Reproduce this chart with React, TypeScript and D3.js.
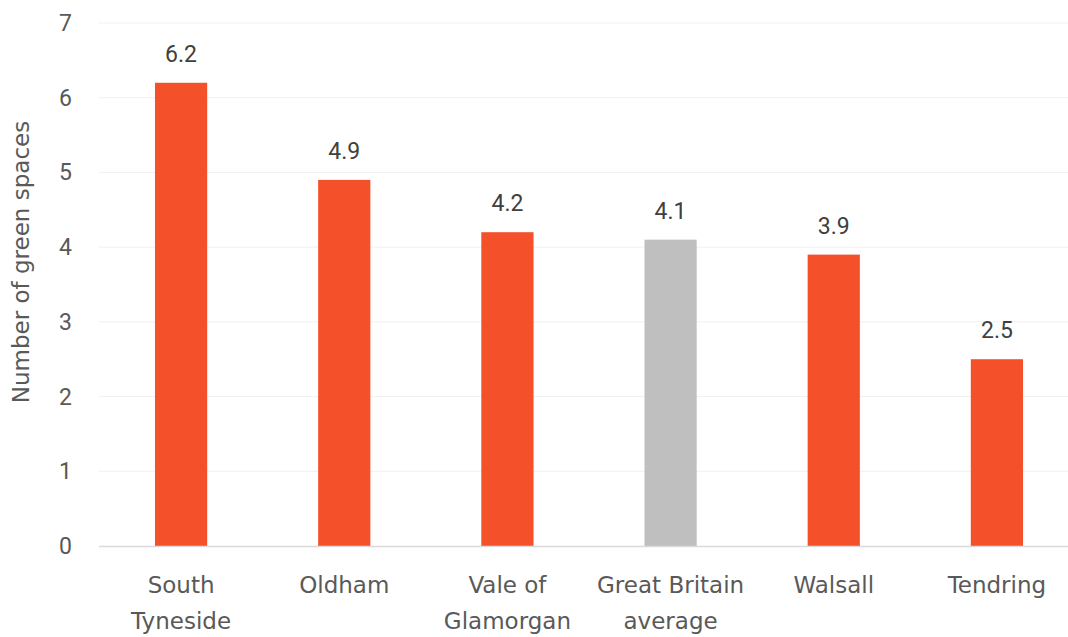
import React from "react";
import * as d3 from "d3";

const categories: string[][] = [
  ["South", "Tyneside"],
  ["Oldham"],
  ["Vale of", "Glamorgan"],
  ["Great Britain", "average"],
  ["Walsall"],
  ["Tendring"],
];
const values: number[] = [6.2, 4.9, 4.2, 4.1, 3.9, 2.5];
const highlight: boolean[] = [true, true, true, false, true, true];
const yTicks: number[] = [0, 1, 2, 3, 4, 5, 6, 7];
const yTitle = "Number of green spaces";

const W = 1068;
const H = 637;

export default function App() {
  const keys = categories.map((c) => c.join(" "));
  const x = d3
    .scaleBand<string>()
    .domain(keys)
    .range([99.5, 1078.5])
    .paddingInner(0.68)
    .paddingOuter(0.34);
  const y = d3.scaleLinear().domain([0, 7]).range([546, 23]);
  const font = "'DejaVu Sans', 'Open Sans', sans-serif";
  const numFont = "Roboto, 'Liberation Sans', Arial, sans-serif";
  return (
    <svg width={W} height={H} style={{ position: "absolute", left: 0, top: 0, background: "#fff" }}>
      {yTicks.map((t) => (
        <g key={t}>
          {t > 0 && (
            <line x1={99} x2={1068} y1={y(t)} y2={y(t)} stroke="#f0f0f0" strokeWidth={1} />
          )}
          <text
            x={72}
            y={y(t)}
            dy="0.35em"
            textAnchor="end"
            fontSize={23}
            fill="#595959"
            fontFamily={numFont}
          >
            {t}
          </text>
        </g>
      ))}
      {values.map((v, i) => (
        <g key={keys[i]}>
          <rect
            x={x(keys[i])}
            y={y(v)}
            width={x.bandwidth()}
            height={y(0) - y(v)}
            fill={highlight[i] ? "#F4502A" : "#BFBFBF"}
          />
          <text
            x={(x(keys[i]) as number) + x.bandwidth() / 2}
            y={y(v) - 21}
            textAnchor="middle"
            fontSize={23}
            fill="#404040"
            fontFamily={numFont}
          >
            {v.toFixed(1)}
          </text>
          <text
            x={(x(keys[i]) as number) + x.bandwidth() / 2}
            y={593}
            textAnchor="middle"
            fontSize={23}
            fill="#595959"
            fontFamily={font}
          >
            {categories[i].map((line, j) => (
              <tspan key={j} x={(x(keys[i]) as number) + x.bandwidth() / 2} dy={j === 0 ? 0 : 36}>
                {line}
              </tspan>
            ))}
          </text>
        </g>
      ))}
      <line x1={99} x2={1068} y1={y(0) + 0.5} y2={y(0) + 0.5} stroke="#d9d9d9" strokeWidth={1.5} />
      <text
        transform={`translate(29, 262) rotate(-90)`}
        textAnchor="middle"
        fontSize={23}
        fill="#595959"
        fontFamily={font}
      >
        {yTitle}
      </text>
    </svg>
  );
}
